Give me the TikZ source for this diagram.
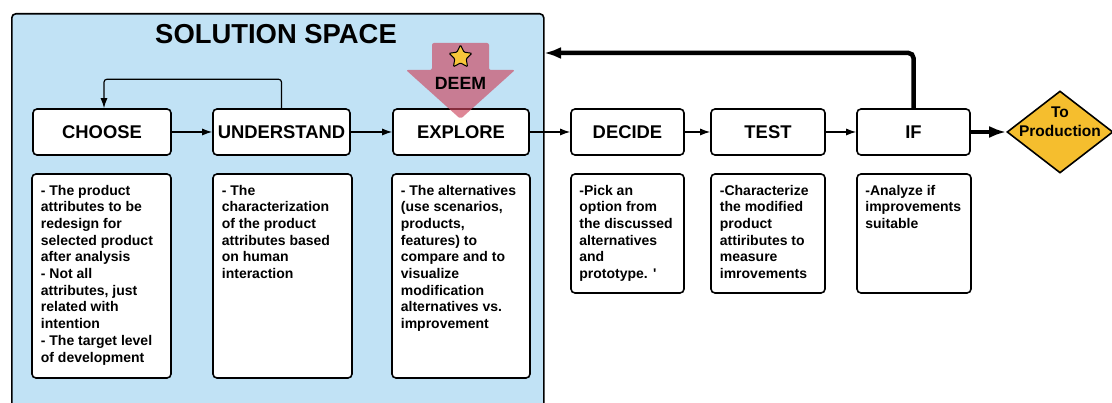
\documentclass[tikz,border=0pt]{standalone}
\usepackage{fontspec}
\setmainfont{Liberation Sans}
\usetikzlibrary{arrows.meta,shapes.geometric,calc}
\definecolor{spaceblue}{HTML}{C1E2F5}
\definecolor{deemred}{HTML}{CD465F}
\definecolor{prodyellow}{HTML}{F5BE2E}
\definecolor{staryellow}{HTML}{F7C63A}

\begin{document}
\begin{tikzpicture}[x=1pt,y=-1pt,
  stage/.style={draw=black, line width=1.6pt, fill=white, rounded corners=4pt,
    minimum height=46pt, inner sep=0pt, font=\fontsize{18.4}{20}\selectfont\bfseries},
  notebox/.style={draw=black, line width=1.6pt, fill=white, rounded corners=4pt, inner sep=0pt},
  notetext/.style={anchor=north west, inner sep=0pt, align=left,
    font=\fontsize{14}{16.7}\selectfont\bfseries},
  flow/.style={line width=1.2pt, -{Latex[length=10pt,width=7pt]}},
  bigflow/.style={line width=4.5pt, -{Latex[length=17pt,width=12pt]}}
]
\clip (0,0) rectangle (1112,403);
\fill[white] (0,0) rectangle (1112,403);

% solution space panel
\node[draw=black, line width=1.6pt, fill=spaceblue, rounded corners=4pt,
  minimum width=532pt, minimum height=420pt, anchor=north west, inner sep=0pt] (space) at (11,13) {};
\node[font=\fontsize{27.4}{30}\selectfont\bfseries] (title) at (276,34.5) {SOLUTION SPACE};

% process stages
\node[stage, minimum width=138pt] (choose) at (102,132) {CHOOSE};
\node[stage, minimum width=137pt] (understand) at (281.5,132) {UNDERSTAND};
\node[stage, minimum width=136pt] (explore) at (461,132) {EXPLORE};
\node[stage, minimum width=113pt] (decide) at (627.5,132) {DECIDE};
\node[stage, minimum width=114pt] (test) at (768,132) {TEST};
\node[stage, minimum width=113pt] (if) at (913.5,132) {IF};

% production decision
\node[diamond, draw=black, line width=1.6pt, fill=prodyellow, inner sep=0pt,
  minimum width=106pt, minimum height=82pt] (prod) at (1060,132) {};
\node[align=center, inner sep=0pt, font=\fontsize{15.5}{19}\selectfont\bfseries] (prodtext) at (1060,122) {To\\Production};

% description boxes
\node[notebox, minimum width=139pt, minimum height=204pt] (cnote) at (101.5,276) {};
\node[notebox, minimum width=139pt, minimum height=204pt] (unote) at (282.5,276) {};
\node[notebox, minimum width=138pt, minimum height=204pt] (enote) at (461,276) {};
\node[notebox, minimum width=113pt, minimum height=119pt] (dnote) at (627.5,233.5) {};
\node[notebox, minimum width=114pt, minimum height=119pt] (tnote) at (768,233.5) {};
\node[notebox, minimum width=114pt, minimum height=119pt] (inote) at (914,233.5) {};

\node[notetext] (ctext) at ($(cnote.north west)+(9.5,11.5)$) {- The product\\attributes to be\\redesign for\\selected product\\after analysis\\- Not all\\attributes, just\\related with\\intention\\- The target level\\of development};
\node[notetext] (utext) at ($(unote.north west)+(9.5,11.5)$) {- The\\characterization\\of the product\\attributes based\\on human\\interaction};
\node[notetext] (etext) at ($(enote.north west)+(9.5,11.5)$) {- The alternatives\\(use scenarios,\\products,\\features) to\\compare and to\\visualize\\modification\\alternatives vs.\\improvement};
\node[notetext] (dtext) at ($(dnote.north west)+(9,11.5)$) {-Pick an\\option from\\the discussed\\alternatives\\and\\prototype. \textquotesingle};
\node[notetext] (ttext) at ($(tnote.north west)+(9.5,11.5)$) {-Characterize\\the modified\\product\\attiributes to\\measure\\imrovements};
\node[notetext] (itext) at ($(inote.north west)+(9,11.5)$) {-Analyze if\\improvements\\suitable};

% connectors
\draw[flow] (choose) -- (understand);
\draw[flow] (understand) -- (explore);
\draw[flow] (explore) -- (decide);
\draw[flow] (decide) -- (test);
\draw[flow] (test) -- (if);
\draw[flow, rounded corners=3pt] (understand.north) -- ++(0,-29) -| ($(choose.north)+(2,0)$);
\draw[bigflow] (if) -- (prod);
\coordinate (ret) at (544,53);
\draw[bigflow, rounded corners=5pt] (if.north) |- (ret);

% DEEM marker
\fill[deemred, opacity=0.65, rounded corners=2pt]
  (432,43) -- (489,43) -- (489,70) -- (515,70) -- (460.5,119) -- (406,70) -- (432,70) -- cycle;
\node[star, star points=5, star point ratio=2, minimum size=24pt, inner sep=0pt,
  draw=black, line width=1pt, fill=staryellow, rounded corners=1pt] (star) at (460.5,57) {};
\node[font=\fontsize{17.7}{20}\selectfont\bfseries] (deem) at (460.5,83) {DEEM};
\end{tikzpicture}
\end{document}
